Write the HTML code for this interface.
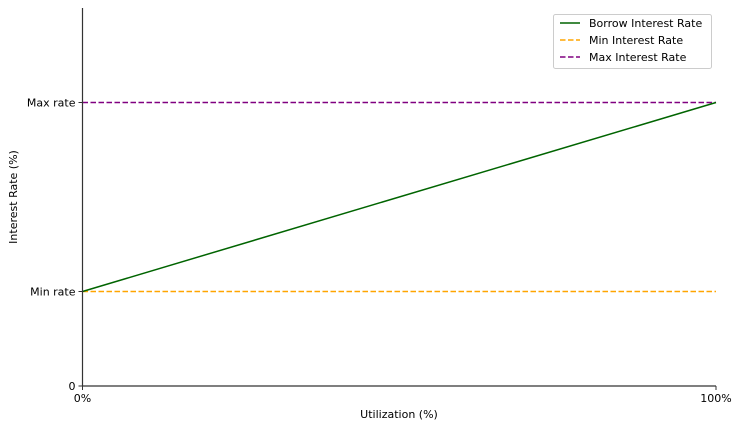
<!DOCTYPE html>
<html><head><meta charset="utf-8"><style>
body{margin:0;background:#fff}
svg{display:block;font-family:"DejaVu Sans","Liberation Sans",sans-serif}
</style></head><body>
<svg id="chart" width="740" height="429" viewBox="0 0 740 429" xmlns="http://www.w3.org/2000/svg">
<g id="marks"></g>
<g id="axes"></g>
<g id="legend">
<rect x="553.5" y="14.5" width="158" height="54" rx="2" fill="#fff" stroke="#ccc"/>
<line x1="560" y1="23" x2="580" y2="23" stroke="#006400" stroke-width="1.5"/>
<text x="589" y="27" font-size="11" fill="#000">Borrow Interest Rate</text>
<line x1="560" y1="40" x2="580" y2="40" stroke="#ffa500" stroke-width="1.5" stroke-dasharray="5.5,2.5"/>
<text x="589" y="44" font-size="11" fill="#000">Min Interest Rate</text>
<line x1="560" y1="57" x2="580" y2="57" stroke="#800080" stroke-width="1.5" stroke-dasharray="5.5,2.5"/>
<text x="589" y="61" font-size="11" fill="#000">Max Interest Rate</text>
</g>
<text x="399" y="418" font-size="11" text-anchor="middle">Utilization (%)</text>
<text transform="translate(17,197) rotate(-90)" font-size="11" text-anchor="middle">Interest Rate (%)</text>
</svg>
<script>
const utilization = [0, 100];
const borrowRate = [1, 3];
const minRate = 1;
const maxRate = 3;
const yTickValues = [0, 1, 3];
const yTickLabels = ["0", "Min rate", "Max rate"];
const xTickValues = [0, 100];
const xTickLabels = ["0%", "100%"];
const NS = "http://www.w3.org/2000/svg";
const X0 = 82.5, X1 = 716, Y0 = 386, YT = 8;
function sx(v){return X0 + (v-0)/100*(X1-X0);}
function sy(v){return Y0 - v/4*(Y0-YT);}
function mk(tag, attrs, parent){const e=document.createElementNS(NS,tag);for(const k in attrs)e.setAttribute(k,attrs[k]);parent.appendChild(e);return e;}
const marks=document.getElementById('marks'), axes=document.getElementById('axes');
let l=mk('line',{x1:sx(0),x2:sx(100),y1:sy(minRate),y2:sy(minRate),stroke:'#ffa500','stroke-width':1.5,'stroke-dasharray':'5.5,2.5'},marks);


l=mk('line',{x1:sx(0),x2:sx(100),y1:sy(maxRate),y2:sy(maxRate),stroke:'#800080','stroke-width':1.5,'stroke-dasharray':'5.5,2.5'},marks);


const pts=utilization.map((u,i)=>sx(u)+','+sy(borrowRate[i])).join(' ');
l=mk('polyline',{points:pts,fill:'none',stroke:'#006400','stroke-width':1.5},marks);


l=mk('line',{x1:X0,x2:X0,y1:YT,y2:Y0,stroke:'#333','stroke-width':1.2},axes);


l=mk('line',{x1:X0,x2:X1,y1:Y0,y2:Y0,stroke:'#333','stroke-width':1.2},axes);


yTickValues.forEach((v,i)=>{
  mk('line',{x1:X0-4,x2:X0,y1:sy(v),y2:sy(v),stroke:'#333','stroke-width':1},axes);
  const t=mk('text',{x:X0-7,y:sy(v)+4,'font-size':11,'text-anchor':'end'},axes);
  t.textContent=yTickLabels[i];
  
  
});
xTickValues.forEach((v,i)=>{
  mk('line',{x1:sx(v),x2:sx(v),y1:Y0,y2:Y0+4,stroke:'#333','stroke-width':1},axes);
  const t=mk('text',{x:sx(v),y:Y0+16,'font-size':11,'text-anchor':'middle'},axes);
  t.textContent=xTickLabels[i];
  
  
});
</script>
</body></html>
